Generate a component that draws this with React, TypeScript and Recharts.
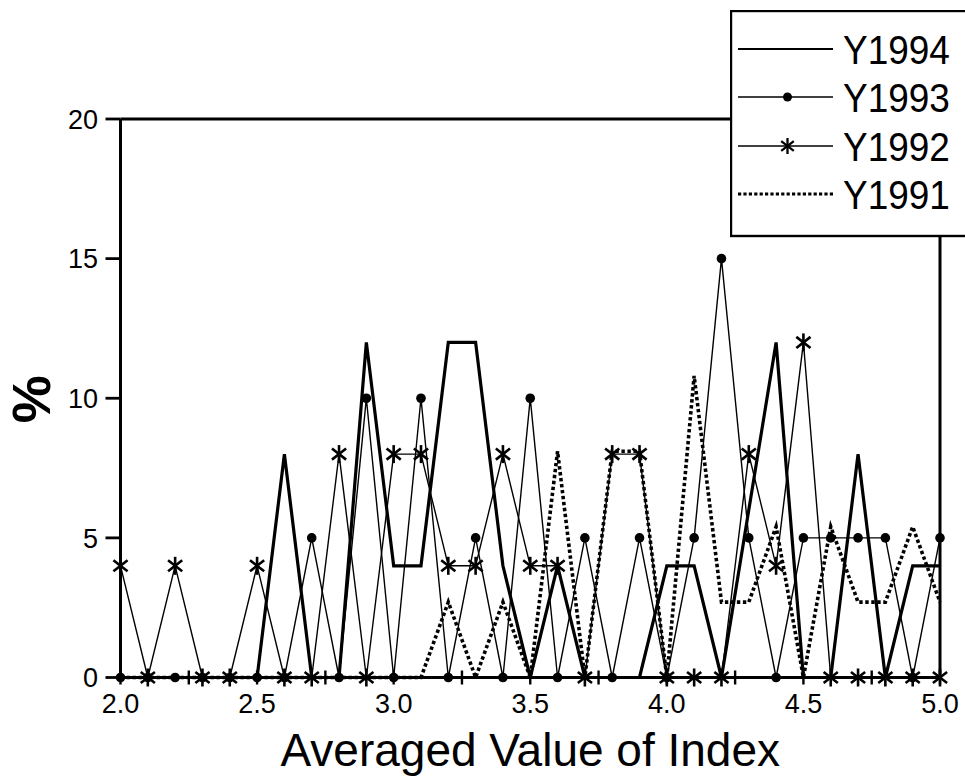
import React from 'react';
import { LineChart, Line, XAxis, YAxis, ReferenceLine, Legend } from 'recharts';

// ---- data ----
const xValues = [2.0, 2.1, 2.2, 2.3, 2.4, 2.5, 2.6, 2.7, 2.8, 2.9, 3.0, 3.1, 3.2, 3.3, 3.4, 3.5, 3.6, 3.7, 3.8, 3.9, 4.0, 4.1, 4.2, 4.3, 4.4, 4.5, 4.6, 4.7, 4.8, 4.9, 5.0];
const y1994 = [0, 0, 0, 0, 0, 0, 8, 0, 0, 12, 4, 4, 12, 12, 4, 0, 4, 0, 0, 0, 4, 4, 0, 6, 12, 0, 0, 8, 0, 4, 4];
const y1993 = [0, 0, 0, 0, 0, 0, 0, 5, 0, 10, 0, 10, 0, 5, 0, 10, 0, 5, 0, 5, 0, 5, 15, 5, 0, 5, 5, 5, 5, 0, 5];
const y1992 = [4, 0, 4, 0, 0, 4, 0, 0, 8, 0, 8, 8, 4, 4, 8, 4, 4, 0, 8, 8, 0, 0, 0, 8, 4, 12, 0, 0, 0, 0, 0];
const y1991 = [0, 0, 0, 0, 0, 0, 0, 0, 0, 0, 0, 0, 2.7, 0, 2.7, 0, 8.1, 0, 8.1, 8.1, 0, 10.8, 2.7, 2.7, 5.4, 0, 5.4, 2.7, 2.7, 5.4, 2.7];

const seriesNames = ['Y1994', 'Y1993', 'Y1992', 'Y1991'];
const xMajorTicks = [2.0, 2.5, 3.0, 3.5, 4.0, 4.5, 5.0];
const xMinorTicks = [2.25, 2.75, 3.25, 3.75, 4.25, 4.75];
const yTicks = [0, 5, 10, 15, 20];
const yRightTicks = [5, 10, 15];
const xTitle = 'Averaged Value of Index';
const yTitle = '%';

const data = xValues.map((x, i) => ({
  x,
  Y1994: y1994[i],
  Y1993: y1993[i],
  Y1992: y1992[i],
  Y1991: y1991[i],
}));

const allXTicks = [...xMajorTicks, ...xMinorTicks].sort((a, b) => a - b);

const FONT = '"Liberation Sans", Arial, Helvetica, sans-serif';
const INK = '#000';

const Asterisk = ({ cx, cy, r = 9, sw = 2.6 }: any) => {
  const a = (38 * Math.PI) / 180;
  const dx = r * Math.cos(a);
  const dy = r * Math.sin(a);
  return (
    <g stroke={INK} strokeWidth={sw} strokeLinecap="butt">
      <line x1={cx} y1={cy - r} x2={cx} y2={cy + r} />
      <line x1={cx - dx} y1={cy - dy} x2={cx + dx} y2={cy + dy} />
      <line x1={cx - dx} y1={cy + dy} x2={cx + dx} y2={cy - dy} />
    </g>
  );
};

const AsteriskDot = (props: any) => {
  const { cx, cy, index } = props;
  if (cx == null || cy == null) return <g key={`a-${index}`} />;
  return (
    <g key={`a-${index}`}>
      <Asterisk cx={cx} cy={cy} />
    </g>
  );
};

const CircleDot = (props: any) => {
  const { cx, cy, index } = props;
  if (cx == null || cy == null) return <g key={`c-${index}`} />;
  return <circle key={`c-${index}`} cx={cx} cy={cy} r={4.8} fill={INK} stroke="none" />;
};

const XTick = (props: any) => {
  const { x, y, payload } = props;
  const v = payload.value;
  const major = xMajorTicks.some((t) => Math.abs(t - v) < 1e-9);
  return (
    <g>
      <line x1={x} x2={x} y1={y - 7} y2={y + 7} stroke={INK} strokeWidth={2.4} />
      {major && (
        <text x={x} y={y + 35.5} textAnchor="middle" fontSize={27} fontFamily={FONT} fill={INK}>
          {v.toFixed(1)}
        </text>
      )}
    </g>
  );
};

const YTick = (props: any) => {
  const { x, y, payload } = props;
  return (
    <g>
      <line x1={x - 15} x2={x} y1={y} y2={y} stroke={INK} strokeWidth={2.8} />
      <text x={x - 22.5} y={y} dy="0.36em" textAnchor="end" fontSize={27} fontFamily={FONT} fill={INK}>
        {payload.value}
      </text>
    </g>
  );
};

const YRightTick = (props: any) => {
  const { x, y } = props;
  return <line x1={x - 15} x2={x} y1={y} y2={y} stroke={INK} strokeWidth={2.8} />;
};

const XTitle = (props: any) => {
  const vb = props.viewBox || {};
  const cx = vb.x + vb.width / 2;
  return (
    <text x={cx} y={vb.y + 88.5} textAnchor="middle" fontSize={46} fontFamily={FONT} fill={INK}>
      {xTitle}
    </text>
  );
};

const YTitle = (props: any) => {
  const vb = props.viewBox || {};
  const cx = 31;
  const cy = vb.y + vb.height / 2 + 1;
  return (
    <text
      x={cx}
      y={cy}
      transform={`rotate(-90, ${cx}, ${cy})`}
      textAnchor="middle"
      dominantBaseline="central"
      fontSize={54}
      fontWeight="bold"
      fontFamily={FONT}
      fill={INK}
    >
      {yTitle}
    </text>
  );
};

const LegendBox = () => {
  const rowY = [39, 87, 136, 184];
  const lx1 = 8;
  const lx2 = 103;
  const mx = (lx1 + lx2) / 2;
  return (
    <svg width={235} height={228} style={{ display: 'block' }}>
      <rect x={1} y={1} width={300} height={225} fill="#fff" stroke={INK} strokeWidth={2.4} />
      {seriesNames.map((name, i) => {
        const y = rowY[i];
        let sample: React.ReactNode = null;
        if (name === 'Y1994') {
          sample = <line x1={lx1} x2={lx2} y1={y} y2={y} stroke={INK} strokeWidth={2.2} />;
        } else if (name === 'Y1993') {
          sample = (
            <g>
              <line x1={lx1} x2={lx2} y1={y} y2={y} stroke={INK} strokeWidth={1.3} />
              <circle cx={mx + 2} cy={y} r={4.5} fill={INK} />
            </g>
          );
        } else if (name === 'Y1992') {
          sample = (
            <g>
              <line x1={lx1} x2={lx2} y1={y} y2={y} stroke={INK} strokeWidth={1.3} />
              <Asterisk cx={mx + 2} cy={y} r={8} sw={2.3} />
            </g>
          );
        } else {
          sample = (
            <line x1={lx1} x2={lx2} y1={y} y2={y} stroke={INK} strokeWidth={2.8} strokeDasharray="3.2 2.2" />
          );
        }
        return (
          <g key={name}>
            {sample}
            <g transform={`translate(113, ${y + 14.8}) scale(1, 1.12)`}>
              <text x={0} y={0} fontSize={37} fontFamily={FONT} fill={INK}>
                {name}
              </text>
            </g>
          </g>
        );
      })}
    </svg>
  );
};

export default function App() {
  return (
    <div style={{ position: 'absolute', left: 0, top: 0, width: 965, height: 781, background: '#fff' }}>
      <LineChart
        width={965}
        height={781}
        data={data}
        margin={{ top: 119, right: 24, bottom: 63.5, left: 60.5 }}
      >
        <XAxis
          dataKey="x"
          type="number"
          domain={[2, 5]}
          ticks={allXTicks}
          interval={0}
          height={40}
          tickSize={0}
          tickMargin={0}
          tickLine={false}
          axisLine={{ stroke: INK, strokeWidth: 3 }}
          tick={<XTick />}
          label={<XTitle />}
        />
        <YAxis
          yAxisId="left"
          type="number"
          domain={[0, 20]}
          ticks={yTicks}
          interval={0}
          width={60}
          tickSize={0}
          tickMargin={0}
          tickLine={false}
          axisLine={{ stroke: INK, strokeWidth: 3 }}
          tick={<YTick />}
          label={<YTitle />}
        />
        <YAxis
          yAxisId="right"
          orientation="right"
          type="number"
          domain={[0, 20]}
          ticks={yRightTicks}
          interval={0}
          width={1}
          tickSize={0}
          tickMargin={0}
          tickLine={false}
          axisLine={{ stroke: INK, strokeWidth: 3 }}
          tick={<YRightTick />}
        />
        <ReferenceLine yAxisId="left" y={20} stroke={INK} strokeWidth={3} ifOverflow="visible" />
        <Line
          yAxisId="left"
          type="linear"
          dataKey="Y1994"
          stroke={INK}
          strokeWidth={3.2}
          dot={false}
          activeDot={false}
          isAnimationActive={false}
        />
        <Line
          yAxisId="left"
          type="linear"
          dataKey="Y1993"
          stroke={INK}
          strokeWidth={1.4}
          dot={CircleDot}
          activeDot={false}
          isAnimationActive={false}
        />
        <Line
          yAxisId="left"
          type="linear"
          dataKey="Y1992"
          stroke={INK}
          strokeWidth={1.4}
          dot={AsteriskDot}
          activeDot={false}
          isAnimationActive={false}
        />
        <Line
          yAxisId="left"
          type="linear"
          dataKey="Y1991"
          stroke={INK}
          strokeWidth={3.6}
          strokeDasharray="3.4 2.6"
          dot={false}
          activeDot={false}
          isAnimationActive={false}
        />
        <Legend
          layout="horizontal"
          verticalAlign="middle"
          align="center"
          content={() => <LegendBox />}
          wrapperStyle={{ position: 'absolute', left: 730, top: 10, width: 235, height: 228, margin: 0, padding: 0 }}
        />
      </LineChart>
    </div>
  );
}
